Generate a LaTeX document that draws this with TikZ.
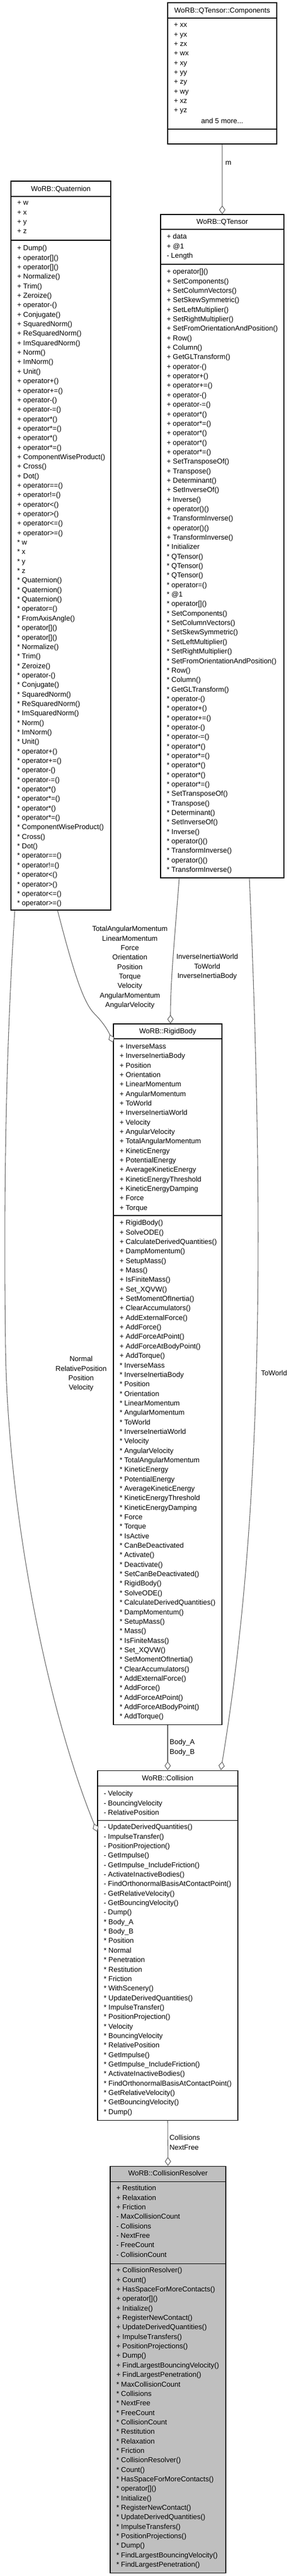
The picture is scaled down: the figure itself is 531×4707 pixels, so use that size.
\documentclass[tikz,border=0pt]{standalone}
\usepackage{fontspec}
\usepackage{color}
\usepackage{tikz}
\usetikzlibrary{arrows.meta,fit}
\newfontfamily\umlfamily{Liberation Sans}
\newcommand{\umlfont}{\umlfamily\fontsize{9.75pt}{13.01pt}\selectfont}
\newcommand{\umlstrut}{\rule{0pt}{7.2pt}}
\definecolor{linkgrey}{HTML}{606060}
\definecolor{activegrey}{HTML}{BFBFBF}
\begin{document}
\begin{tikzpicture}[x=0.75pt, y=-0.75pt,
	classbox/.style={draw=black, line width=0.8pt, fill=white, inner sep=0pt},
	classline/.style={draw=black, line width=0.8pt},
	classtitle/.style={font=\umlfont, inner sep=0pt, anchor=base},
	members/.style={font=\umlfont, align=left, anchor=north west, inner sep=0pt, execute at begin node=\umlstrut},
	rolename/.style={font=\umlfont, align=center, anchor=north, inner sep=0pt, execute at begin node=\umlstrut},
	aggr/.style={draw=linkgrey, line width=0.8pt, -{Diamond[fill=white, length=12pt, width=8.5pt]}}]
		\useasboundingbox (0,0) rectangle (531,4707);
		\node[classbox, fit={(306,5) (505,263)}] (comp) {};
		\draw[classline] (comp.west |- 0,33) -- (comp.east |- 0,33);
		\draw[classline] (comp.west |- 0,236) -- (comp.east |- 0,236);
		\node[classtitle] (compT) at (comp.north |- 0,23.7) {WoRB::QTensor::Components};
		\node[members] (compA) at (317,42.1) {+ xx\\
+ yx\\
+ zx\\
+ wx\\
+ xy\\
+ yy\\
+ zy\\
+ wy\\
+ xz\\
+ yz};
		\node[classtitle] (compMore) at (comp.north |- 0,225.7) {and 5 more...};
		\node[classbox, fit={(293,392) (518,1604)}] (qten) {};
		\draw[classline] (qten.west |- 0,419) -- (qten.east |- 0,419);
		\draw[classline] (qten.west |- 0,483) -- (qten.east |- 0,483);
		\node[classtitle] (qtenT) at (qten.north |- 0,409.7) {WoRB::QTensor};
		\node[members] (qtenA) at (304,427.1) {+ data\\
+ @1\\
- Length};
		\node[members] (qtenM) at (304,491.1) {+ operator[]()\\
+ SetComponents()\\
+ SetColumnVectors()\\
+ SetSkewSymmetric()\\
+ SetLeftMultiplier()\\
+ SetRightMultiplier()\\
+ SetFromOrientationAndPosition()\\
+ Row()\\
+ Column()\\
+ GetGLTransform()\\
+ operator-()\\
+ operator+()\\
+ operator+=()\\
+ operator-()\\
+ operator-=()\\
+ operator*()\\
+ operator*=()\\
+ operator*()\\
+ operator*()\\
+ operator*=()\\
+ SetTransposeOf()\\
+ Transpose()\\
+ Determinant()\\
+ SetInverseOf()\\
+ Inverse()\\
+ operator()()\\
+ TransformInverse()\\
+ operator()()\\
+ TransformInverse()\\
{*} Initializer\\
{*} QTensor()\\
{*} QTensor()\\
{*} QTensor()\\
{*} operator=()\\
{*} @1\\
{*} operator[]()\\
{*} SetComponents()\\
{*} SetColumnVectors()\\
{*} SetSkewSymmetric()\\
{*} SetLeftMultiplier()\\
{*} SetRightMultiplier()\\
{*} SetFromOrientationAndPosition()\\
{*} Row()\\
{*} Column()\\
{*} GetGLTransform()\\
{*} operator-()\\
{*} operator+()\\
{*} operator+=()\\
{*} operator-()\\
{*} operator-=()\\
{*} operator*()\\
{*} operator*=()\\
{*} operator*()\\
{*} operator*()\\
{*} operator*=()\\
{*} SetTransposeOf()\\
{*} Transpose()\\
{*} Determinant()\\
{*} SetInverseOf()\\
{*} Inverse()\\
{*} operator()()\\
{*} TransformInverse()\\
{*} operator()()\\
{*} TransformInverse()};
		\node[classbox, fit={(20,331) (202,1663)}] (quat) {};
		\draw[classline] (quat.west |- 0,359) -- (quat.east |- 0,359);
		\draw[classline] (quat.west |- 0,439) -- (quat.east |- 0,439);
		\node[classtitle] (quatT) at (quat.north |- 0,349.7) {WoRB::Quaternion};
		\node[members] (quatA) at (31,367.1) {+ w\\
+ x\\
+ y\\
+ z};
		\node[members] (quatM) at (31,448.1) {+ Dump()\\
+ operator[]()\\
+ operator[]()\\
+ Normalize()\\
+ Trim()\\
+ Zeroize()\\
+ operator-()\\
+ Conjugate()\\
+ SquaredNorm()\\
+ ReSquaredNorm()\\
+ ImSquaredNorm()\\
+ Norm()\\
+ ImNorm()\\
+ Unit()\\
+ operator+()\\
+ operator+=()\\
+ operator-()\\
+ operator-=()\\
+ operator*()\\
+ operator*=()\\
+ operator*()\\
+ operator*=()\\
+ ComponentWiseProduct()\\
+ Cross()\\
+ Dot()\\
+ operator==()\\
+ operator!=()\\
+ operator<()\\
+ operator>()\\
+ operator<=()\\
+ operator>=()\\
{*} w\\
{*} x\\
{*} y\\
{*} z\\
{*} Quaternion()\\
{*} Quaternion()\\
{*} Quaternion()\\
{*} operator=()\\
{*} FromAxisAngle()\\
{*} operator[]()\\
{*} operator[]()\\
{*} Normalize()\\
{*} Trim()\\
{*} Zeroize()\\
{*} operator-()\\
{*} Conjugate()\\
{*} SquaredNorm()\\
{*} ReSquaredNorm()\\
{*} ImSquaredNorm()\\
{*} Norm()\\
{*} ImNorm()\\
{*} Unit()\\
{*} operator+()\\
{*} operator+=()\\
{*} operator-()\\
{*} operator-=()\\
{*} operator*()\\
{*} operator*=()\\
{*} operator*()\\
{*} operator*=()\\
{*} ComponentWiseProduct()\\
{*} Cross()\\
{*} Dot()\\
{*} operator==()\\
{*} operator!=()\\
{*} operator<()\\
{*} operator>()\\
{*} operator<=()\\
{*} operator>=()};
		\node[classbox, fit={(207,1871) (405,3151)}] (rigid) {};
		\draw[classline] (rigid.west |- 0,1898) -- (rigid.east |- 0,1898);
		\draw[classline] (rigid.west |- 0,2221) -- (rigid.east |- 0,2221);
		\node[classtitle] (rigidT) at (rigid.north |- 0,1888.7) {WoRB::RigidBody};
		\node[members] (rigidA) at (218,1907.1) {+ InverseMass\\
+ InverseInertiaBody\\
+ Position\\
+ Orientation\\
+ LinearMomentum\\
+ AngularMomentum\\
+ ToWorld\\
+ InverseInertiaWorld\\
+ Velocity\\
+ AngularVelocity\\
+ TotalAngularMomentum\\
+ KineticEnergy\\
+ PotentialEnergy\\
+ AverageKineticEnergy\\
+ KineticEnergyThreshold\\
+ KineticEnergyDamping\\
+ Force\\
+ Torque};
		\node[members] (rigidM) at (218,2229.1) {+ RigidBody()\\
+ SolveODE()\\
+ CalculateDerivedQuantities()\\
+ DampMomentum()\\
+ SetupMass()\\
+ Mass()\\
+ IsFiniteMass()\\
+ Set\_XQVW()\\
+ SetMomentOfInertia()\\
+ ClearAccumulators()\\
+ AddExternalForce()\\
+ AddForce()\\
+ AddForceAtPoint()\\
+ AddForceAtBodyPoint()\\
+ AddTorque()\\
{*} InverseMass\\
{*} InverseInertiaBody\\
{*} Position\\
{*} Orientation\\
{*} LinearMomentum\\
{*} AngularMomentum\\
{*} ToWorld\\
{*} InverseInertiaWorld\\
{*} Velocity\\
{*} AngularVelocity\\
{*} TotalAngularMomentum\\
{*} KineticEnergy\\
{*} PotentialEnergy\\
{*} AverageKineticEnergy\\
{*} KineticEnergyThreshold\\
{*} KineticEnergyDamping\\
{*} Force\\
{*} Torque\\
{*} IsActive\\
{*} CanBeDeactivated\\
{*} Activate()\\
{*} Deactivate()\\
{*} SetCanBeDeactivated()\\
{*} RigidBody()\\
{*} SolveODE()\\
{*} CalculateDerivedQuantities()\\
{*} DampMomentum()\\
{*} SetupMass()\\
{*} Mass()\\
{*} IsFiniteMass()\\
{*} Set\_XQVW()\\
{*} SetMomentOfInertia()\\
{*} ClearAccumulators()\\
{*} AddExternalForce()\\
{*} AddForce()\\
{*} AddForceAtPoint()\\
{*} AddForceAtBodyPoint()\\
{*} AddTorque()};
		\node[classbox, fit={(178,3235) (434,3874)}] (coll) {};
		\draw[classline] (coll.west |- 0,3263) -- (coll.east |- 0,3263);
		\draw[classline] (coll.west |- 0,3326) -- (coll.east |- 0,3326);
		\node[classtitle] (collT) at (coll.north |- 0,3253.7) {WoRB::Collision};
		\node[members] (collA) at (189,3272.1) {- Velocity\\
- BouncingVelocity\\
- RelativePosition};
		\node[members] (collM) at (189,3333.1) {- UpdateDerivedQuantities()\\
- ImpulseTransfer()\\
- PositionProjection()\\
- GetImpulse()\\
- GetImpulse\_IncludeFriction()\\
- ActivateInactiveBodies()\\
- FindOrthonormalBasisAtContactPoint()\\
- GetRelativeVelocity()\\
- GetBouncingVelocity()\\
- Dump()\\
{*} Body\_A\\
{*} Body\_B\\
{*} Position\\
{*} Normal\\
{*} Penetration\\
{*} Restitution\\
{*} Friction\\
{*} WithScenery()\\
{*} UpdateDerivedQuantities()\\
{*} ImpulseTransfer()\\
{*} PositionProjection()\\
{*} Velocity\\
{*} BouncingVelocity\\
{*} RelativePosition\\
{*} GetImpulse()\\
{*} GetImpulse\_IncludeFriction()\\
{*} ActivateInactiveBodies()\\
{*} FindOrthonormalBasisAtContactPoint()\\
{*} GetRelativeVelocity()\\
{*} GetBouncingVelocity()\\
{*} Dump()};
		\node[classbox, fill=activegrey, fit={(201,3958) (412,4701)}] (resolver) {};
		\draw[classline] (resolver.west |- 0,3986) -- (resolver.east |- 0,3986);
		\draw[classline] (resolver.west |- 0,4136) -- (resolver.east |- 0,4136);
		\node[classtitle] (resolverT) at (resolver.north |- 0,3975.7) {WoRB::CollisionResolver};
		\node[members] (resolverA) at (212,3993.1) {+ Restitution\\
+ Relaxation\\
+ Friction\\
- MaxCollisionCount\\
- Collisions\\
- NextFree\\
- FreeCount\\
- CollisionCount};
		\node[members] (resolverM) at (212,4143.1) {+ CollisionResolver()\\
+ Count()\\
+ HasSpaceForMoreContacts()\\
+ operator[]()\\
+ Initialize()\\
+ RegisterNewContact()\\
+ UpdateDerivedQuantities()\\
+ ImpulseTransfers()\\
+ PositionProjections()\\
+ Dump()\\
+ FindLargestBouncingVelocity()\\
+ FindLargestPenetration()\\
{*} MaxCollisionCount\\
{*} Collisions\\
{*} NextFree\\
{*} FreeCount\\
{*} CollisionCount\\
{*} Restitution\\
{*} Relaxation\\
{*} Friction\\
{*} CollisionResolver()\\
{*} Count()\\
{*} HasSpaceForMoreContacts()\\
{*} operator[]()\\
{*} Initialize()\\
{*} RegisterNewContact()\\
{*} UpdateDerivedQuantities()\\
{*} ImpulseTransfers()\\
{*} PositionProjections()\\
{*} Dump()\\
{*} FindLargestBouncingVelocity()\\
{*} FindLargestPenetration()};
		\draw[aggr] (comp.south) -- (qten.north);
		\node[rolename, anchor=north west] (roleM) at (411,292) {m};
		\draw[aggr] (27,0 |- quat.south) .. controls (12,1900) and (6,2150) .. (10,2460)
		.. controls (14,2760) and (85,3120) .. (coll.west |- 0,3347);
		\node[rolename] (roleNormal) at (148,2478.1) {Normal\\RelativePosition\\Position\\Velocity};
		\draw[aggr] (105,0 |- quat.south) .. controls (130,1760) and (150,1830) .. (172,1852)
		.. controls (190,1870) and (198,1885) .. (rigid.west |- 0,1905);
		\node[rolename] (roleState) at (237,1692.1) {TotalAngularMomentum\\LinearMomentum\\Force\\Orientation\\Position\\Torque\\Velocity\\AngularMomentum\\AngularVelocity};
		\draw[aggr] (327,0 |- qten.south) .. controls (320,1700) and (311,1790) .. (311,0 |- rigid.north);
		\node[rolename] (roleInertia) at (378,1743.1) {InverseInertiaWorld\\ToWorld\\InverseInertiaBody};
		\draw[aggr] (455,0 |- qten.south) .. controls (485,2300) and (475,2800) .. (403,0 |- coll.north);
		\node[rolename] (roleWorld) at (500,2504.1) {ToWorld};
		\draw[aggr] (rigid.south) -- (coll.north);
		\node[rolename] (roleBody) at (332.5,3178.1) {Body\_A\\Body\_B};
		\draw[aggr] (coll.south) -- (resolver.north);
		\node[rolename, align=left, anchor=north west] (roleColl) at (309,3901.1) {Collisions\\NextFree};
\end{tikzpicture}
\end{document}
